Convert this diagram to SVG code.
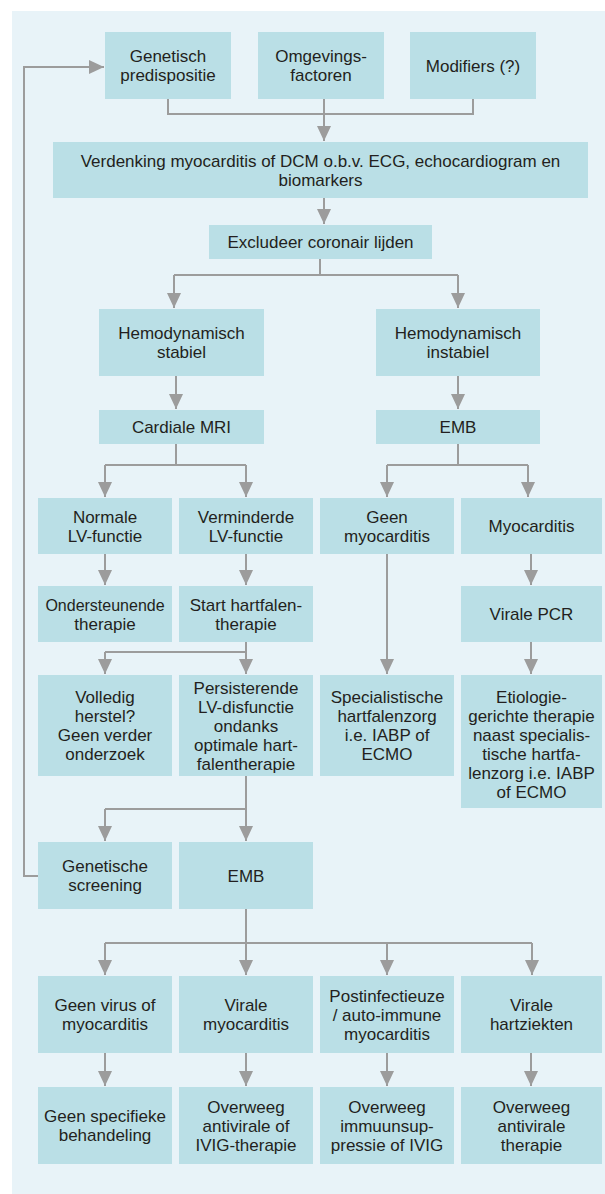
<svg xmlns="http://www.w3.org/2000/svg" width="605" height="1194" viewBox="0 0 605 1194">
<style>
.bg{fill:#e8f3f8}
.box{fill:#badfe6}
.t{font-family:"Liberation Sans",Arial,sans-serif;font-size:17px;fill:#231f20;text-anchor:middle}
.c{fill:none;stroke:#9c9c9c;stroke-width:2}
</style>
<defs>
<marker id="ah" markerUnits="userSpaceOnUse" markerWidth="15" markerHeight="14" refX="15" refY="7" orient="auto">
<path d="M0,0 L15,7 L0,14 z" fill="#9c9c9c"/>
</marker>
</defs>
<rect class="bg" x="12" y="11" width="593" height="1183"/>
<g id="connectors">
<path class="c" d="M168,99 V114 H473 V99"/>
<path class="c" d="M324,99 V141" marker-end="url(#ah)"/>
<path class="c" d="M324,198 V224" marker-end="url(#ah)"/>
<path class="c" d="M320,259 V275"/>
<path class="c" d="M174,275 H458"/>
<path class="c" d="M174,275 V308" marker-end="url(#ah)"/>
<path class="c" d="M458,275 V308" marker-end="url(#ah)"/>
<path class="c" d="M176,376 V409" marker-end="url(#ah)"/>
<path class="c" d="M458,376 V409" marker-end="url(#ah)"/>
<path class="c" d="M176,444 V465"/>
<path class="c" d="M105,465 H246"/>
<path class="c" d="M105,465 V497" marker-end="url(#ah)"/>
<path class="c" d="M246,465 V497" marker-end="url(#ah)"/>
<path class="c" d="M458,444 V465"/>
<path class="c" d="M387,465 H528"/>
<path class="c" d="M387,465 V497" marker-end="url(#ah)"/>
<path class="c" d="M528,465 V497" marker-end="url(#ah)"/>
<path class="c" d="M105,554 V585" marker-end="url(#ah)"/>
<path class="c" d="M246,554 V585" marker-end="url(#ah)"/>
<path class="c" d="M387,554 V674" marker-end="url(#ah)"/>
<path class="c" d="M531,554 V585" marker-end="url(#ah)"/>
<path class="c" d="M531,642 V674" marker-end="url(#ah)"/>
<path class="c" d="M246,642 V652"/>
<path class="c" d="M105,652 H246"/>
<path class="c" d="M105,652 V674" marker-end="url(#ah)"/>
<path class="c" d="M246,652 V674" marker-end="url(#ah)"/>
<path class="c" d="M246,776 V809"/>
<path class="c" d="M105,809 H246"/>
<path class="c" d="M105,809 V841" marker-end="url(#ah)"/>
<path class="c" d="M246,809 V841" marker-end="url(#ah)"/>
<path class="c" d="M38,876 H24 V67 H104" marker-end="url(#ah)"/>
<path class="c" d="M246,909 V943"/>
<path class="c" d="M105,943 H532"/>
<path class="c" d="M105,943 V975" marker-end="url(#ah)"/>
<path class="c" d="M246,943 V975" marker-end="url(#ah)"/>
<path class="c" d="M387,943 V975" marker-end="url(#ah)"/>
<path class="c" d="M532,943 V975" marker-end="url(#ah)"/>
<path class="c" d="M105,1053 V1086" marker-end="url(#ah)"/>
<path class="c" d="M246,1053 V1086" marker-end="url(#ah)"/>
<path class="c" d="M387,1053 V1086" marker-end="url(#ah)"/>
<path class="c" d="M531,1053 V1086" marker-end="url(#ah)"/>
</g>
<g id="n-genetisch"><rect class="box" x="105" y="32" width="126" height="67"/><text class="t" x="168" y="62">Genetisch</text><text class="t" x="168" y="81">predispositie</text></g>
<g id="n-omgeving"><rect class="box" x="258" y="32" width="126" height="67"/><text class="t" x="321" y="62">Omgevings-</text><text class="t" x="321" y="81">factoren</text></g>
<g id="n-modifiers"><rect class="box" x="410" y="32" width="126" height="67"/><text class="t" x="473" y="71.5">Modifiers (?)</text></g>
<g id="n-verdenking"><rect class="box" x="53" y="142" width="535" height="56"/><text class="t" x="320.5" y="166.5">Verdenking myocarditis of DCM o.b.v. ECG, echocardiogram en</text><text class="t" x="320.5" y="185.5">biomarkers</text></g>
<g id="n-excludeer"><rect class="box" x="209" y="225" width="223" height="34"/><text class="t" x="320.5" y="248">Excludeer coronair lijden</text></g>
<g id="n-stabiel"><rect class="box" x="99" y="309" width="165" height="67"/><text class="t" x="181.5" y="339">Hemodynamisch</text><text class="t" x="181.5" y="358">stabiel</text></g>
<g id="n-instabiel"><rect class="box" x="376" y="309" width="164" height="67"/><text class="t" x="458" y="339">Hemodynamisch</text><text class="t" x="458" y="358">instabiel</text></g>
<g id="n-mri"><rect class="box" x="99" y="410" width="165" height="34"/><text class="t" x="181.5" y="433">Cardiale MRI</text></g>
<g id="n-emb1"><rect class="box" x="376" y="410" width="164" height="34"/><text class="t" x="458" y="433">EMB</text></g>
<g id="n-normale"><rect class="box" x="38" y="498" width="134" height="56"/><text class="t" x="105" y="522.5">Normale</text><text class="t" x="105" y="541.5">LV-functie</text></g>
<g id="n-verminderde"><rect class="box" x="179" y="498" width="134" height="56"/><text class="t" x="246" y="522.5">Verminderde</text><text class="t" x="246" y="541.5">LV-functie</text></g>
<g id="n-geenmyo"><rect class="box" x="320" y="498" width="134" height="56"/><text class="t" x="387" y="522.5">Geen</text><text class="t" x="387" y="541.5">myocarditis</text></g>
<g id="n-myocarditis"><rect class="box" x="461" y="498" width="141" height="56"/><text class="t" x="531.5" y="532">Myocarditis</text></g>
<g id="n-ondersteunende"><rect class="box" x="38" y="586" width="134" height="56"/><text class="t" x="105" y="610.5" style="font-size:16px">Ondersteunende</text><text class="t" x="105" y="629.5">therapie</text></g>
<g id="n-start"><rect class="box" x="179" y="586" width="134" height="56"/><text class="t" x="246" y="610.5">Start hartfalen-</text><text class="t" x="246" y="629.5">therapie</text></g>
<g id="n-pcr"><rect class="box" x="461" y="586" width="141" height="56"/><text class="t" x="531.5" y="620">Virale PCR</text></g>
<g id="n-volledig"><rect class="box" x="38" y="675" width="134" height="101"/><text class="t" x="105" y="703">Volledig</text><text class="t" x="105" y="722">herstel?</text><text class="t" x="105" y="741">Geen verder</text><text class="t" x="105" y="760">onderzoek</text></g>
<g id="n-persisterende"><rect class="box" x="179" y="675" width="134" height="101"/><text class="t" x="246" y="693.5">Persisterende</text><text class="t" x="246" y="712.5">LV-disfunctie</text><text class="t" x="246" y="731.5">ondanks</text><text class="t" x="246" y="750.5">optimale hart-</text><text class="t" x="246" y="769.5">falentherapie</text></g>
<g id="n-specialistische"><rect class="box" x="320" y="675" width="134" height="101"/><text class="t" x="387" y="703">Specialistische</text><text class="t" x="387" y="722">hartfalenzorg</text><text class="t" x="387" y="741">i.e. IABP of</text><text class="t" x="387" y="760">ECMO</text></g>
<g id="n-etiologie"><rect class="box" x="461" y="675" width="141" height="133"/><text class="t" x="531.5" y="703">Etiologie-</text><text class="t" x="531.5" y="722">gerichte therapie</text><text class="t" x="531.5" y="741">naast specialis-</text><text class="t" x="531.5" y="760">tische hartfa-</text><text class="t" x="531.5" y="779">lenzorg i.e. IABP</text><text class="t" x="531.5" y="798">of ECMO</text></g>
<g id="n-genscreening"><rect class="box" x="38" y="842" width="134" height="67"/><text class="t" x="105" y="872">Genetische</text><text class="t" x="105" y="891">screening</text></g>
<g id="n-emb2"><rect class="box" x="179" y="842" width="134" height="67"/><text class="t" x="246" y="881.5">EMB</text></g>
<g id="n-geenvirus"><rect class="box" x="38" y="976" width="134" height="77"/><text class="t" x="105" y="1011">Geen virus of</text><text class="t" x="105" y="1030">myocarditis</text></g>
<g id="n-viralemyo"><rect class="box" x="179" y="976" width="134" height="77"/><text class="t" x="246" y="1011">Virale</text><text class="t" x="246" y="1030">myocarditis</text></g>
<g id="n-postinf"><rect class="box" x="320" y="976" width="134" height="77"/><text class="t" x="387" y="1001.5">Postinfectieuze</text><text class="t" x="387" y="1020.5">/ auto-immune</text><text class="t" x="387" y="1039.5">myocarditis</text></g>
<g id="n-viralehart"><rect class="box" x="461" y="976" width="141" height="77"/><text class="t" x="531.5" y="1011">Virale</text><text class="t" x="531.5" y="1030">hartziekten</text></g>
<g id="n-geenspec"><rect class="box" x="38" y="1087" width="134" height="77"/><text class="t" x="105" y="1122">Geen specifieke</text><text class="t" x="105" y="1141">behandeling</text></g>
<g id="n-antiviraalivig"><rect class="box" x="179" y="1087" width="134" height="77"/><text class="t" x="246" y="1112.5">Overweeg</text><text class="t" x="246" y="1131.5">antivirale of</text><text class="t" x="246" y="1150.5">IVIG-therapie</text></g>
<g id="n-immuun"><rect class="box" x="320" y="1087" width="134" height="77"/><text class="t" x="387" y="1112.5">Overweeg</text><text class="t" x="387" y="1131.5">immuunsup-</text><text class="t" x="387" y="1150.5">pressie of IVIG</text></g>
<g id="n-antiviraal"><rect class="box" x="461" y="1087" width="141" height="77"/><text class="t" x="531.5" y="1112.5">Overweeg</text><text class="t" x="531.5" y="1131.5">antivirale</text><text class="t" x="531.5" y="1150.5">therapie</text></g>
</svg>
